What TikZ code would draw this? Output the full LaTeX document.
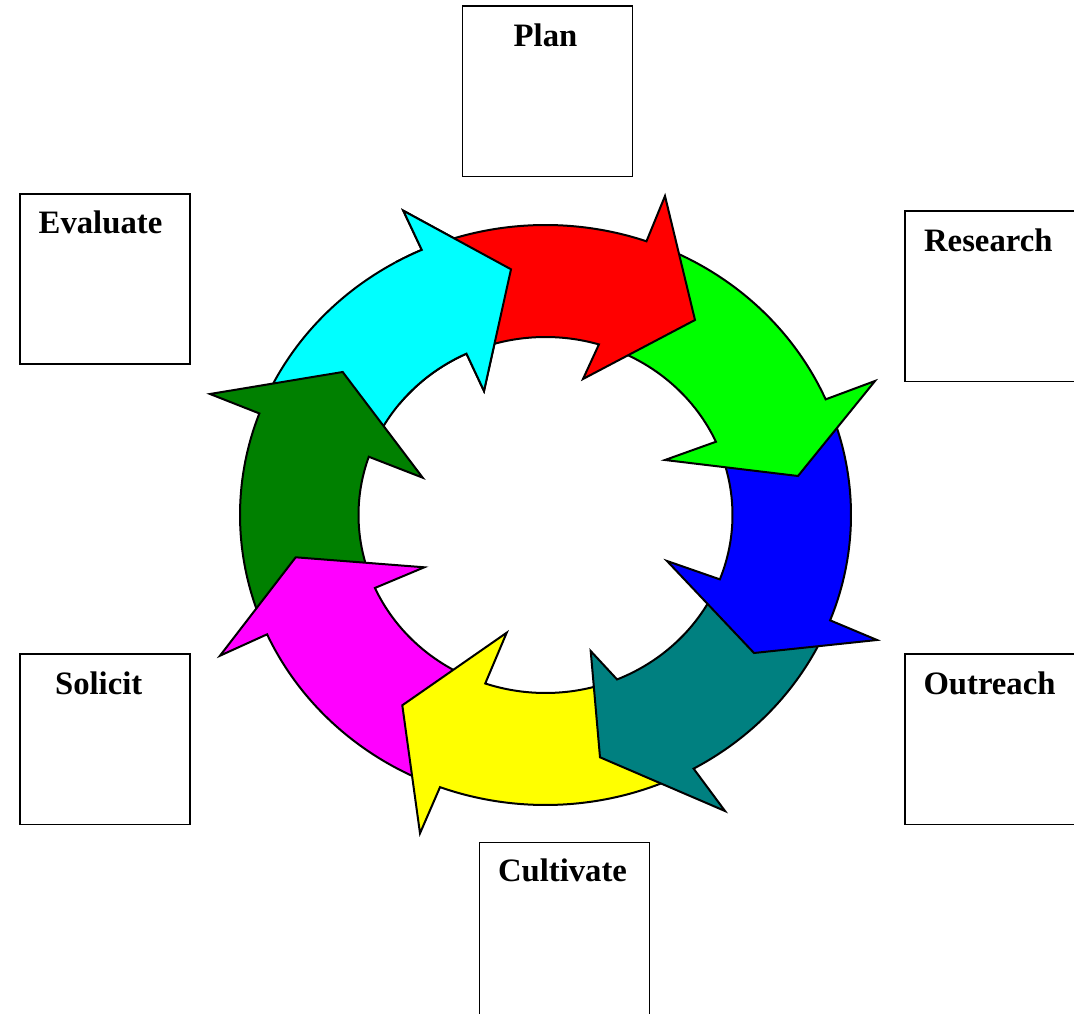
\documentclass[tikz,border=0pt]{standalone}
\usepackage{fontspec}
\setmainfont{Liberation Serif}
\definecolor{cRed}{HTML}{FF0000}
\definecolor{cGreen}{HTML}{00FF00}
\definecolor{cBlue}{HTML}{0000FF}
\definecolor{cTeal}{HTML}{008080}
\definecolor{cYellow}{HTML}{FFFF00}
\definecolor{cMagenta}{HTML}{FF00FF}
\definecolor{cDkGreen}{HTML}{008000}
\definecolor{cCyan}{HTML}{00FFFF}
% #1 colour, #2 outer tail angle, #3 outer notch angle, #4 outer barb, #5 tip, #6 inner barb, #7 inner notch angle, #8 inner tail angle
\newcommand\ringarrow[8]{%
  \filldraw[ringarrowstyle, fill=#1]
    (#2:305.5 and 290) arc[start angle=#2, end angle=#3, x radius=305.5, y radius=290]
    -- #4 -- #5 -- #6
    -- (#7:187 and 178) arc[start angle=#7, end angle=#8, x radius=187, y radius=178]
    -- cycle;}
\begin{document}
\begin{tikzpicture}[x=1pt, y=1pt,
  ringarrowstyle/.style={draw=black, line width=2pt, line join=miter},
  boxstyle/.style={draw=black, line width=1.3pt, fill=none, inner sep=0pt},
  labelstyle/.style={font=\fontsize{32.7}{39}\selectfont\bfseries, inner sep=0pt, anchor=base}]
\useasboundingbox (0,0) rectangle (1074,1013);
% boxes
\node[boxstyle, minimum width=170, minimum height=170.7] (planbox) at (547.7,921.65) {};
\node[boxstyle, minimum width=170, minimum height=170] (evalbox) at (105,734) {};
\node[boxstyle, minimum width=171, minimum height=170.7] (resbox) at (990.5,716.65) {};
\node[boxstyle, minimum width=170, minimum height=170.3] (solbox) at (105,273.85) {};
\node[boxstyle, minimum width=171, minimum height=170.3] (outbox) at (990.5,273.85) {};
\node[boxstyle, minimum width=170, minimum height=175] (cultbox) at (564.3,83.2) {};
% labels
\node[labelstyle] (plan) at (545.5,966.3) {Plan};
\node[labelstyle] (evaluate) at (100.5,779.7) {Evaluate};
\node[labelstyle] (research) at (988.3,761.3) {Research};
\node[labelstyle] (solicit) at (98.7,318.7) {Solicit};
\node[labelstyle] (outreach) at (989.5,318.7) {Outreach};
\node[labelstyle] (cultivate) at (562.5,131.3) {Cultivate};
% ring of arrows
\begin{scope}[shift={(545.5,498)}]
\ringarrow{cCyan}{156.0}{113.9}{(-142.2,304.3)}{(-34.5,245.7)}{(-61.5,124)}{115.0}{156.9}
\ringarrow{cDkGreen}{-159.2}{-200.5}{(-335.5,121)}{(-202.8,143)}{(-122.8,37.3)}{-199.1}{-159.8}
\ringarrow{cMagenta}{-113.7}{-155.7}{(-325.5,-140.7)}{(-249.8,-42.3)}{(-121.2,-52.3)}{-155.8}{-112.8}
\ringarrow{cYellow}{-64.5}{-110.2}{(-125.5,-318.3)}{(-143.2,-190.3)}{(-38.8,-117.7)}{-108.8}{-71.5}
\ringarrow{cTeal}{-24.8}{-61.0}{(179.5,-296)}{(54.5,-242.3)}{(45.2,-136)}{-67.5}{-25.2}
\ringarrow{cBlue}{20.0}{-21.3}{(331.5,-125)}{(208.5,-138)}{(121.5,-46)}{-21.2}{20.3}
\ringarrow{cGreen}{67.2}{23.5}{(329.5,134)}{(252.5,39)}{(119.5,55)}{24.3}{69.4}
\ringarrow{cRed}{110.4}{70.7}{(119.5,319)}{(149.5,195)}{(37.5,136)}{73.4}{111.0}
\begin{scope}
\clip (-150,110) rectangle (0,330);
\ringarrow{cCyan}{156.0}{113.9}{(-142.2,304.3)}{(-34.5,245.7)}{(-61.5,124)}{115.0}{156.9}
\end{scope}
\end{scope}
\end{tikzpicture}
\end{document}
